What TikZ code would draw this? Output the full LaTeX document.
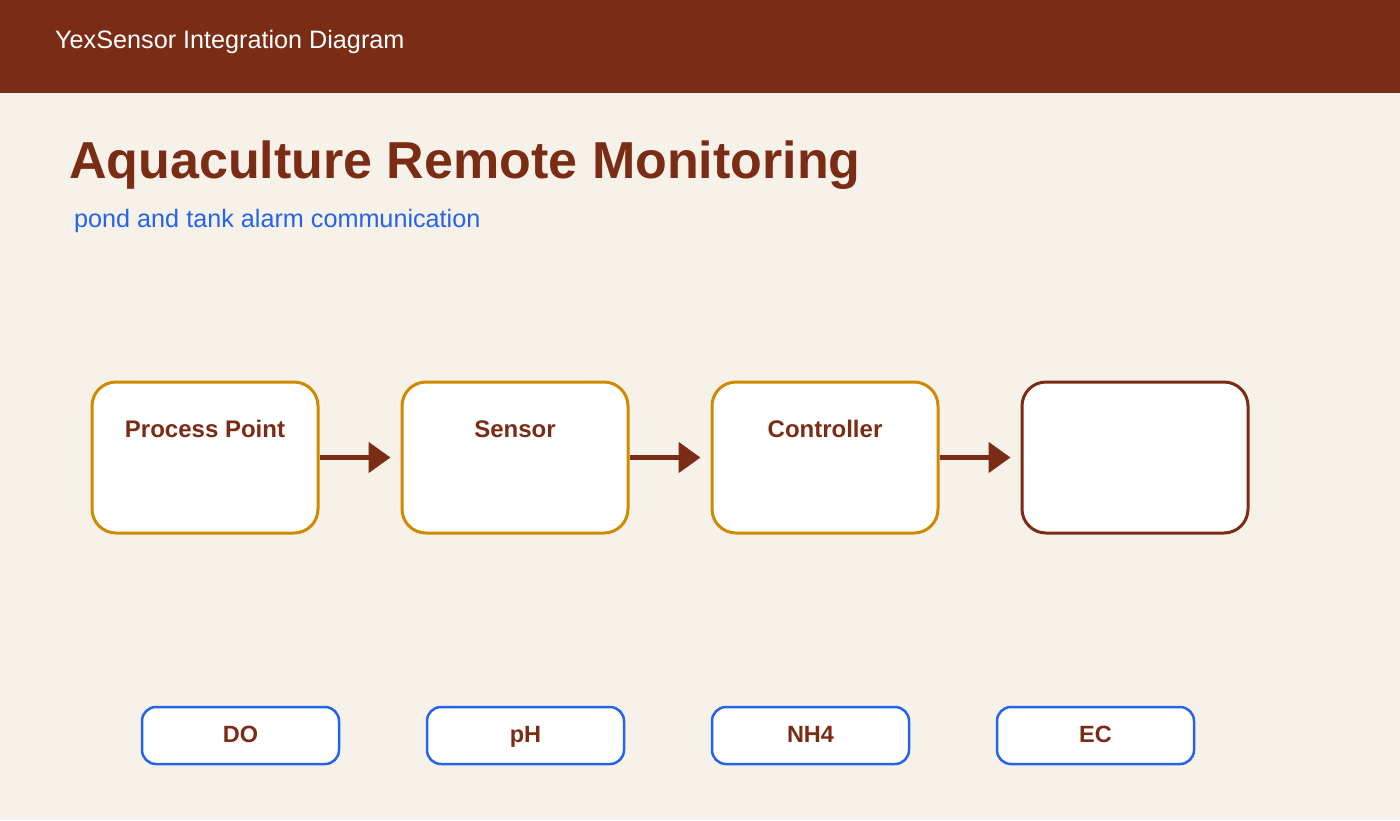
\documentclass[tikz,border=0pt]{standalone}
\usepackage{fontspec}
\setmainfont{Liberation Sans}
\usetikzlibrary{arrows.meta}
\definecolor{brown}{HTML}{7B2C14}
\definecolor{bg}{HTML}{F6F1E9}
\definecolor{gold}{HTML}{CF8B00}
\definecolor{blueb}{HTML}{2563EB}
\tikzset{
  mainbox/.style={draw=gold, line width=3pt, fill=white, rounded corners=24pt, minimum width=226pt, minimum height=151pt, inner sep=0pt},
  endbox/.style={mainbox, draw=brown},
  boxlabel/.style={anchor=base, text=brown, font=\fontsize{24}{28}\selectfont\bfseries, inner sep=0pt},
  tagbox/.style={draw=blueb, line width=2.5pt, fill=white, rounded corners=14pt, minimum width=197pt, minimum height=57pt, inner sep=0pt, text=brown, font=\fontsize{23.5}{28}\selectfont\bfseries, text height=13pt, text depth=0pt},
  flow/.style={draw=brown, line width=5pt, -{Triangle[length=22pt,width=30pt]}, shorten >=10pt}
}
\begin{document}
\begin{tikzpicture}[x=1pt,y=-1pt]
\useasboundingbox (0,0) rectangle (1400,820);
\fill[bg] (0,0) rectangle (1400,820);
\fill[brown] (0,0) rectangle (1400,93);
\node[anchor=base west, inner sep=0pt, text=white, font=\fontsize{25.2}{30}\selectfont] (hdr) at (55,48) {YexSensor Integration Diagram};
\node[anchor=base west, inner sep=0pt, text=brown, font=\fontsize{52}{60}\selectfont\bfseries] (title) at (69,178) {Aquaculture Remote Monitoring};
\node[anchor=base west, inner sep=0pt, text=blueb, font=\fontsize{25.2}{30}\selectfont] (sub) at (74,227) {pond and tank alarm communication};

\node[mainbox] (b1) at (205,457.5) {};
\node[mainbox] (b2) at (515,457.5) {};
\node[mainbox] (b3) at (825,457.5) {};
\node[endbox] (b4) at (1135,457.5) {};
\node[boxlabel] (l1) at (205,437) {Process Point};
\node[boxlabel] (l2) at (515,437) {Sensor};
\node[boxlabel] (l3) at (825,437) {Controller};

\draw[flow] (b1.east) -- (b2.west);
\draw[flow] (b2.east) -- (b3.west);
\draw[flow] (b3.east) -- (b4.west);

\node[tagbox] (t1) at (240.5,735.5) {DO};
\node[tagbox] (t2) at (525.5,735.5) {pH};
\node[tagbox] (t3) at (810.5,735.5) {NH4};
\node[tagbox] (t4) at (1095.5,735.5) {EC};
\end{tikzpicture}
\end{document}
